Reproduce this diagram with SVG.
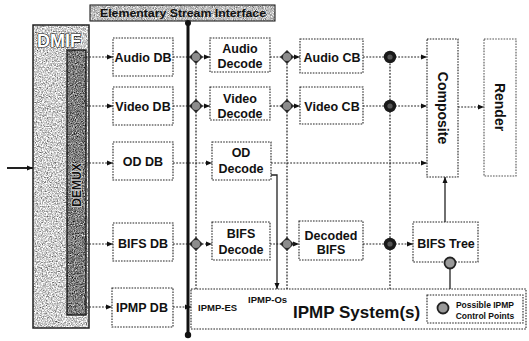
<svg xmlns="http://www.w3.org/2000/svg" width="529" height="341" viewBox="0 0 529 341">
  <style>
    .box { fill: #fff; stroke: #222; stroke-width: 1.1; stroke-dasharray: 1.6 1.2; }
    .lbl { font-family: "Liberation Sans", Arial, sans-serif; font-size: 12.5px; font-weight: bold; fill: #111; text-anchor: middle; }
    .dot { fill: none; stroke: #222; stroke-width: 1.2; stroke-dasharray: 1.8 1.4; }
    .solid { fill: none; stroke: #222; stroke-width: 1.3; }
    .arr { marker-end: url(#ah); }
  </style>
  <defs>
    <marker id="ah" viewBox="0 0 6 6" refX="6" refY="3" markerWidth="6" markerHeight="6" orient="auto" markerUnits="userSpaceOnUse">
      <path d="M0,0.5 L6,3 L0,5.5 z" fill="#111"/>
    </marker>
    <!-- grainy fills for the DMIF block -->
    <filter id="grainLight" x="0" y="0" width="100%" height="100%" color-interpolation-filters="sRGB">
      <feTurbulence type="fractalNoise" baseFrequency="0.8" numOctaves="3" seed="4"/>
      <feColorMatrix type="matrix" values="0.33 0.33 0.33 0 0  0.33 0.33 0.33 0 0  0.33 0.33 0.33 0 0  0 0 0 0 1"/>
      <feComponentTransfer>
        <feFuncR type="linear" slope="2" intercept="-0.18"/>
        <feFuncG type="linear" slope="2" intercept="-0.18"/>
        <feFuncB type="linear" slope="2" intercept="-0.18"/>
      </feComponentTransfer>
    </filter>
    <filter id="grainDark" x="0" y="0" width="100%" height="100%" color-interpolation-filters="sRGB">
      <feTurbulence type="fractalNoise" baseFrequency="0.9" numOctaves="3" seed="9"/>
      <feColorMatrix type="matrix" values="0.33 0.33 0.33 0 0  0.33 0.33 0.33 0 0  0.33 0.33 0.33 0 0  0 0 0 0 1"/>
      <feComponentTransfer>
        <feFuncR type="linear" slope="2" intercept="-0.5"/>
        <feFuncG type="linear" slope="2" intercept="-0.5"/>
        <feFuncB type="linear" slope="2" intercept="-0.5"/>
      </feComponentTransfer>
    </filter>
    <filter id="grainMid" x="0" y="0" width="100%" height="100%" color-interpolation-filters="sRGB">
      <feTurbulence type="fractalNoise" baseFrequency="0.9" numOctaves="3" seed="2"/>
      <feColorMatrix type="matrix" values="0.33 0.33 0.33 0 0  0.33 0.33 0.33 0 0  0.33 0.33 0.33 0 0  0 0 0 0 1"/>
      <feComponentTransfer>
        <feFuncR type="linear" slope="1.6" intercept="-0.05"/>
        <feFuncG type="linear" slope="1.6" intercept="-0.05"/>
        <feFuncB type="linear" slope="1.6" intercept="-0.05"/>
      </feComponentTransfer>
    </filter>
    <!-- IPMP control point glyphs -->
    <g id="cpDiamond">
      <path d="M0,-7 L7,0 L0,7 L-7,0 z" fill="#2a2a2a"/>
      <circle r="4" fill="#8c8c8c"/>
    </g>
    <g id="cpDark">
      <circle r="6.2" fill="#1a1a1a"/>
      <circle r="2.6" fill="#555"/>
    </g>
    <g id="cpRing">
      <circle r="5.5" fill="#999" stroke="#222" stroke-width="1.8"/>
    </g>
  </defs>

  <rect width="529" height="341" fill="#fff"/>

  <!-- DMIF block with the demultiplexer bar -->
  <g id="dmif">
    <rect x="33" y="25" width="56" height="303" filter="url(#grainLight)"/>
    <rect x="33" y="25" width="56" height="303" fill="none" stroke="#222" stroke-width="1.5"/>
    <text x="59" y="47" style="font-family:'Liberation Sans',Arial,sans-serif;font-size:18px;font-weight:bold;fill:#fff;stroke:#111;stroke-width:1.2;paint-order:stroke;text-anchor:middle">DMIF</text>
  </g>
  <g id="demux">
    <rect x="67" y="50" width="19" height="265" filter="url(#grainDark)"/>
    <rect x="67" y="50" width="19" height="265" fill="none" stroke="#111" stroke-width="1.3"/>
    <text transform="translate(81,185) rotate(-90)" style="font-family:'Liberation Sans',Arial,sans-serif;font-size:12px;font-weight:bold;fill:#111;stroke:#ddd;stroke-width:1.4;paint-order:stroke;text-anchor:middle">DEMUX</text>
  </g>

  <!-- Elementary Stream Interface label -->
  <g id="esi">
    <rect x="90" y="5" width="185" height="16" filter="url(#grainMid)"/>
    <rect x="90" y="5" width="185" height="16" fill="none" stroke="#222" stroke-width="1.1"/>
    <text x="183" y="17" textLength="166" lengthAdjust="spacingAndGlyphs" style="font-family:'Liberation Sans',Arial,sans-serif;font-size:11.5px;font-weight:bold;fill:#111;text-anchor:middle">Elementary Stream Interface</text>
  </g>

  <!-- decoding buffers -->
  <g id="audio-db"><rect class="box" x="113" y="38" width="60" height="38"/><text class="lbl" x="143" y="62">Audio DB</text></g>
  <g id="video-db"><rect class="box" x="113" y="87" width="60" height="38"/><text class="lbl" x="143" y="111">Video DB</text></g>
  <g id="od-db"><rect class="box" x="113" y="142" width="60" height="38"/><text class="lbl" x="143" y="166">OD DB</text></g>
  <g id="bifs-db"><rect class="box" x="113" y="223" width="60" height="38"/><text class="lbl" x="143" y="248">BIFS DB</text></g>
  <g id="ipmp-db"><rect class="box" x="112" y="288" width="61" height="39"/><text class="lbl" x="142" y="312">IPMP DB</text></g>

  <!-- decoders -->
  <g id="audio-decode"><rect class="box" x="210" y="38" width="60" height="34"/><text class="lbl" x="240" y="53">Audio</text><text class="lbl" x="240" y="68">Decode</text></g>
  <g id="video-decode"><rect class="box" x="210" y="87" width="60" height="33"/><text class="lbl" x="240" y="103">Video</text><text class="lbl" x="240" y="118">Decode</text></g>
  <g id="od-decode"><rect class="box" x="212" y="142" width="59" height="38"/><text class="lbl" x="241" y="157">OD</text><text class="lbl" x="241" y="173">Decode</text></g>
  <g id="bifs-decode"><rect class="box" x="212" y="222" width="58" height="38"/><text class="lbl" x="241" y="238">BIFS</text><text class="lbl" x="241" y="254">Decode</text></g>

  <!-- composition buffers -->
  <g id="audio-cb"><rect class="box" x="300" y="39" width="63" height="34"/><text class="lbl" x="332" y="62">Audio CB</text></g>
  <g id="video-cb"><rect class="box" x="300" y="87" width="63" height="37"/><text class="lbl" x="332" y="111">Video CB</text></g>
  <g id="decoded-bifs"><rect class="box" x="299" y="221" width="64" height="39"/><text class="lbl" x="331" y="240">Decoded</text><text class="lbl" x="331" y="254">BIFS</text></g>

  <!-- scene tree, compositor and renderer -->
  <g id="bifs-tree"><rect class="box" x="413" y="222" width="65" height="40"/><text class="lbl" x="446" y="248">BIFS Tree</text></g>
  <g id="composite"><rect class="box" x="427" y="39" width="31" height="138"/><text class="lbl" transform="translate(438,108) rotate(90)" style="font-size:14px">Composite</text></g>
  <g id="render"><rect class="box" x="484" y="39" width="32" height="137" style="stroke:#555"/><text class="lbl" transform="translate(495,107) rotate(90)" style="font-size:14px">Render</text></g>

  <!-- IPMP system -->
  <g id="ipmp-system">
    <rect class="box" x="191" y="289" width="335" height="40"/>
    <text x="198" y="311" style="font-family:'Liberation Sans',Arial,sans-serif;font-size:9.5px;font-weight:bold;fill:#111">IPMP-ES</text>
    <text x="248" y="303" style="font-family:'Liberation Sans',Arial,sans-serif;font-size:9.5px;font-weight:bold;fill:#111">IPMP-Os</text>
    <text x="293" y="318" style="font-family:'Liberation Sans',Arial,sans-serif;font-size:17px;font-weight:bold;fill:#111">IPMP System(s)</text>
  </g>
  <g id="legend">
    <rect class="box" x="427" y="295" width="96" height="28"/>
    <use href="#cpRing" x="443" y="308"/>
    <text x="485" y="308" style="font-family:'Liberation Sans',Arial,sans-serif;font-size:8.5px;font-weight:bold;fill:#111;text-anchor:middle">Possible IPMP</text>
    <text x="485" y="319" style="font-family:'Liberation Sans',Arial,sans-serif;font-size:8.5px;font-weight:bold;fill:#111;text-anchor:middle">Control Points</text>
  </g>

  <!-- connectors -->
  <g id="connectors">
    <!-- input into DMIF -->
    <path class="solid arr" d="M7,168 H33" style="stroke-width:2"/>
    <!-- audio chain -->
    <path class="dot arr" d="M86,57 H113"/>
    <path class="dot arr" d="M173,57 H210"/>
    <path class="dot arr" d="M270,57 H300"/>
    <path class="dot arr" d="M363,57 H427"/>
    <!-- video chain -->
    <path class="dot arr" d="M86,106 H113"/>
    <path class="dot arr" d="M173,106 H210"/>
    <path class="dot arr" d="M270,106 H300"/>
    <path class="dot arr" d="M363,106 H427"/>
    <!-- object descriptor chain -->
    <path class="dot arr" d="M86,163 H113"/>
    <path class="dot arr" d="M173,163 H212"/>
    <path class="dot arr" d="M271,163 H427"/>
    <path class="solid arr" d="M271,175 H277 V289"/>
    <!-- scene description chain -->
    <path class="dot arr" d="M86,244 H113"/>
    <path class="dot arr" d="M173,244 H212"/>
    <path class="dot arr" d="M270,244 H299"/>
    <path class="dot arr" d="M363,244 H413"/>
    <!-- IPMP stream -->
    <path class="dot arr" d="M86,307 H112"/>
    <path class="dot arr" d="M173,307 H191"/>
    <!-- control lines from the IPMP system -->
    <path class="dot" d="M196,57 V289"/>
    <path class="dot" d="M287,57 V289"/>
    <path class="dot" d="M390,57 V289"/>
    <path class="solid" d="M450,263 V289"/>
    <!-- scene tree to compositor, compositor to renderer -->
    <path class="solid arr" d="M445,222 V177"/>
    <path class="dot arr" d="M458,107 H484"/>
    <!-- elementary stream interface -->
    <path d="M188,22 V335" stroke="#111" stroke-width="3"/>
    <circle cx="188" cy="23" r="3" fill="#111"/>
    <circle cx="188" cy="335" r="3.2" fill="#111"/>
  </g>

  <!-- IPMP control points -->
  <g id="control-points">
    <use href="#cpDiamond" x="196" y="57"/>
    <use href="#cpDiamond" x="196" y="106"/>
    <use href="#cpDiamond" x="196" y="244"/>
    <use href="#cpDiamond" x="287" y="57"/>
    <use href="#cpDiamond" x="287" y="106"/>
    <use href="#cpDiamond" x="287" y="244"/>
    <use href="#cpDark" x="390" y="57"/>
    <use href="#cpDark" x="390" y="106"/>
    <use href="#cpDark" x="390" y="244"/>
    <use href="#cpRing" x="450" y="263"/>
  </g>
</svg>
